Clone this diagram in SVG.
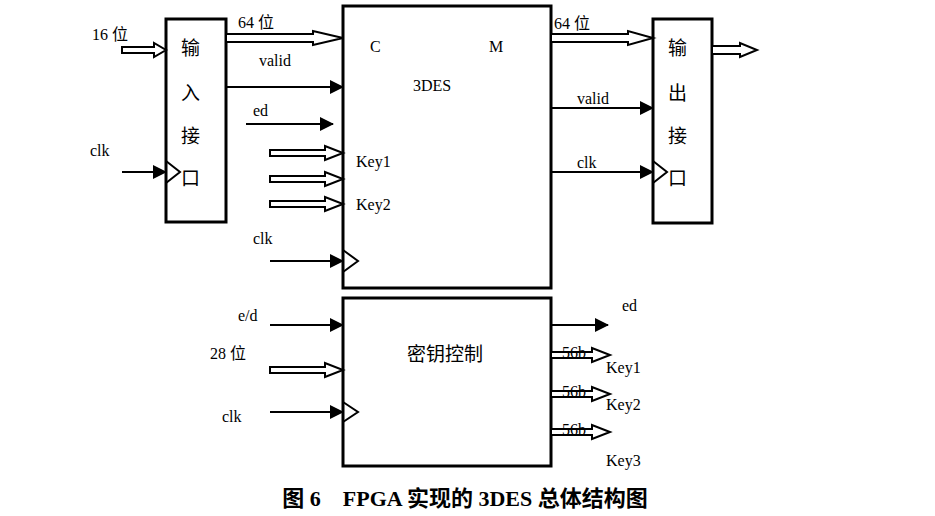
<svg xmlns="http://www.w3.org/2000/svg" width="935" height="516" viewBox="0 0 935 516">
<defs>
<marker id="fa" markerWidth="14" markerHeight="14" refX="13" refY="7" orient="auto" markerUnits="userSpaceOnUse"><path d="M0,0 L14,7 L0,14 Z" fill="#000"/></marker>
</defs>
<style>
.box{fill:#fff;stroke:#000;stroke-width:3}
.ln{stroke:#000;stroke-width:2;fill:none}
.ar{stroke:#000;stroke-width:2;fill:none;marker-end:url(#fa)}
.ho{fill:#fff;stroke:#000;stroke-width:2}
.t{font-family:"Liberation Serif",serif;font-size:16px;fill:#000}
.c{font-family:"Liberation Serif","Noto Sans CJK SC",serif;font-size:19px;fill:#000}
</style>
<rect width="935" height="516" fill="#fff"/>
<g id="input"><rect class="box" x="166" y="19" width="60" height="203"/>
<path class="ln" d="M166,161 L180,172 L166,183"/>
<text class="c" x="181" y="55">输</text><text class="c" x="181" y="100">入</text><text class="c" x="181" y="143">接</text><text class="c" x="181" y="185">口</text></g>
<g id="des"><rect class="box" x="343" y="6" width="208" height="282"/>
<path class="ln" d="M343,250 L358,261 L343,272"/>
<text class="t" x="370" y="52">C</text><text class="t" x="489" y="52">M</text><text class="t" x="413" y="91">3DES</text>
<text class="t" x="356" y="167">Key1</text><text class="t" x="356" y="210">Key2</text></g>
<g id="output"><rect class="box" x="653" y="19" width="59" height="204"/>
<path class="ln" d="M653,161 L667,172 L653,183"/>
<text class="c" x="668" y="55">输</text><text class="c" x="668" y="100">出</text><text class="c" x="668" y="143">接</text><text class="c" x="668" y="185">口</text></g>
<g id="key"><rect class="box" x="343" y="298" width="208" height="168"/>
<path class="ln" d="M343,402 L358,412 L343,422"/>
<text class="c" x="445" y="361" text-anchor="middle">密钥控制</text></g>
<g id="connectors">
<polygon class="ho" points="122,47 154,47 154,43 166,50 154,57 154,53 122,53"/>
<polygon class="ho" points="226,34 313,34 313,31 343,38 313,45 313,42 226,42"/>
<path class="ar" d="M226,87 L343,87"/>
<path class="ar" d="M246,124 L333,124"/>
<polygon class="ho" points="270,150 325,150 325,146 343,153 325,160 325,156 270,156"/>
<polygon class="ho" points="270,176 325,176 325,172 343,179 325,186 325,182 270,182"/>
<polygon class="ho" points="270,201 325,201 325,197 343,204 325,211 325,207 270,207"/>
<path class="ar" d="M270,261 L343,261"/>
<path class="ar" d="M122,172 L166,172"/>
<polygon class="ho" points="551,34 628,34 628,31 653,38 628,45 628,42 551,42"/>
<path class="ar" d="M551,108 L653,108"/>
<path class="ar" d="M551,172 L653,172"/>
<polygon class="ho" points="712,46 740,46 740,43 757,50 740,57 740,54 712,54"/>
<path class="ar" d="M270,325 L343,325"/>
<polygon class="ho" points="270,367 325,367 325,363 343,370 325,377 325,373 270,373"/>
<path class="ar" d="M270,412 L343,412"/>
<path class="ar" d="M551,325 L608,325"/>
<polygon class="ho" points="551,352 592,352 592,348 610,355 592,362 592,358 551,358"/>
<polygon class="ho" points="551,391 592,391 592,387 610,394 592,401 592,397 551,397"/>
<polygon class="ho" points="551,429 592,429 592,425 610,432 592,439 592,435 551,435"/>
</g>
<g id="labels">
<text class="c" x="92" y="40" style="font-size:16px">16 位</text>
<text class="t" x="90" y="156">clk</text>
<text class="c" x="238" y="28" style="font-size:16px">64 位</text>
<text class="t" x="259" y="66">valid</text>
<text class="t" x="253" y="116">ed</text>
<text class="t" x="253" y="244">clk</text>
<text class="c" x="554" y="29" style="font-size:16px">64 位</text>
<text class="t" x="577" y="104">valid</text>
<text class="t" x="577" y="168">clk</text>
<text class="t" x="238" y="321">e/d</text>
<text class="c" x="210" y="359" style="font-size:16px">28 位</text>
<text class="t" x="222" y="422">clk</text>
<text class="t" x="622" y="311">ed</text>
<text class="t" x="562" y="358">56b</text><text class="t" x="606" y="373">Key1</text>
<text class="t" x="562" y="397">56b</text><text class="t" x="606" y="410">Key2</text>
<text class="t" x="562" y="435">56b</text><text class="t" x="606" y="466">Key3</text>
<text class="c" x="465" y="506" text-anchor="middle" style="font-size:22px;font-weight:bold">图 6　FPGA 实现的 3DES 总体结构图</text>
</g>
</svg>
